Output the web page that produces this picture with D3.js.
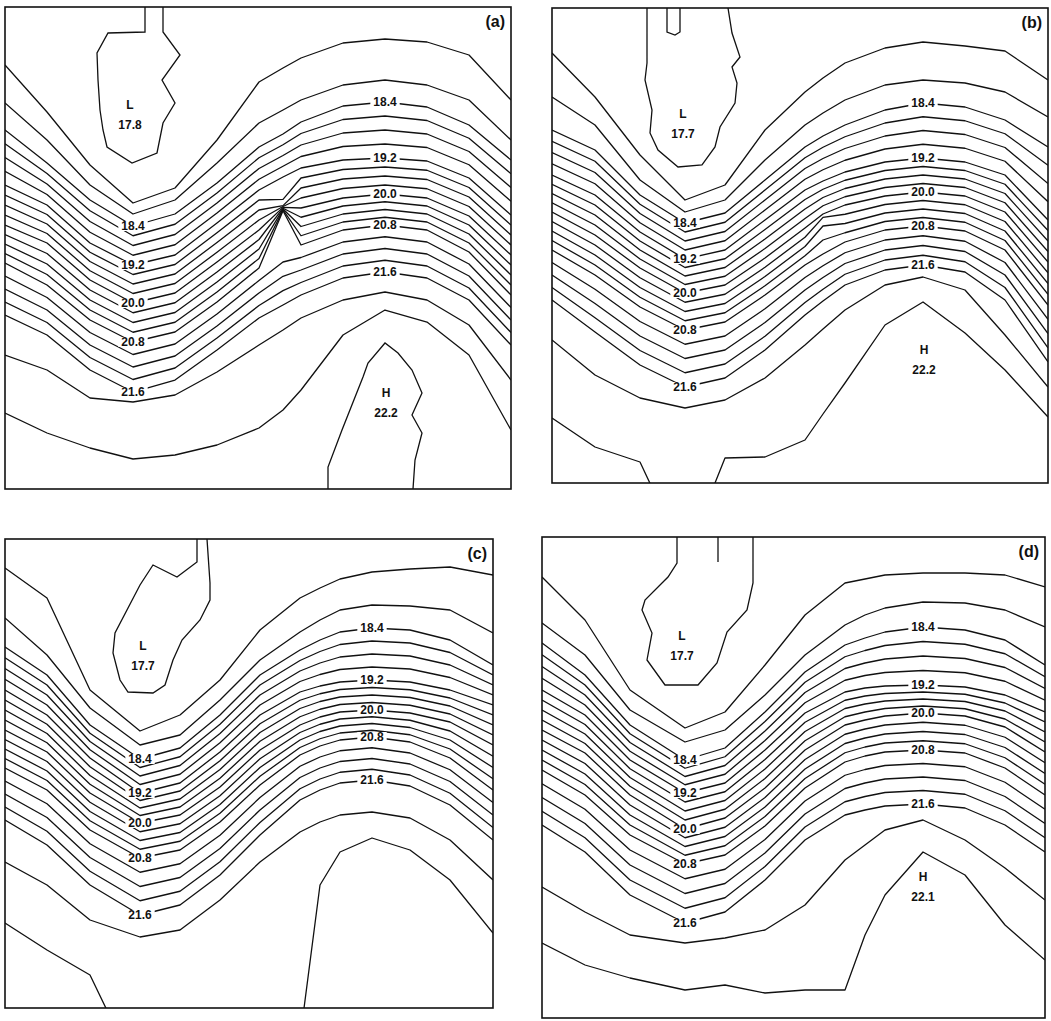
<!DOCTYPE html>
<html>
<head>
<meta charset="utf-8">
<script src="https://cdn.jsdelivr.net/npm/d3@7"></script>
<style>
  body { margin: 0; background: #fff; }
  svg text { font-family: "Liberation Sans", Arial, sans-serif; font-weight: bold; fill: #111; }
</style>
</head>
<body>
<svg id="chart" width="1051" height="1021"></svg>
<script>
const levels = [18.0, 18.2, 18.4, 19.2, 20.0, 20.8, 21.6, 21.8, 22.0];
const labelLevels = [18.4, 19.2, 20.0, 20.8, 21.6];
const isoLevels = d3.range(21).map(i => Math.round((18 + 0.2 * i) * 10) / 10);

// ---------- panel (a) ----------
// x of each sampled column, and y where each level crosses it (panel units from top-left)
const aCols = [0, 42, 85, 128, 170, 212, 254, 278, 296, 338, 380, 422, 464, 506];
const aLines = [
  [58, 105, 158, 196, 181, 133, 75, 61, 51, 36, 32, 35, 48, 93],
  [96, 133, 178, 207, 193, 156, 116, 103, 93, 78, 73, 78, 93, 133],
  [123, 156, 193, 219, 207, 176, 140, 127, 115, 99, 95, 100, 118, 153],
  [178, 198, 236, 258, 248, 216, 183, 170, 161, 153, 151, 154, 171, 208],
  [218, 236, 273, 296, 286, 255, 223, null, 201, 191, 187, 191, 209, 248],
  [256, 278, 313, 335, 325, 295, 261, null, 238, 223, 218, 223, 245, 288],
  [308, 328, 363, 385, 373, 343, 311, 298, 288, 271, 265, 271, 293, 338],
  [348, 363, 391, 395, 388, 365, 338, 323, 311, 293, 285, 293, 318, 373],
  [406, 426, 441, 452, 448, 438, 421, 403, 383, 328, 303, 315, 348, 423]
];
const aTop = 17.9;
const aBot = 22.1;
const aExtra = [[7, 198, 19.45], [7, 204, 20.85], [7, 255, 21.0]];
const aLow = [[140, 0], [140, 25], [103, 26], [92, 46], [93, 73], [95, 103], [98, 123], [102, 140], [127, 156], [152, 146], [158, 116], [170, 96], [157, 73], [175, 48], [158, 25], [158, 0]];
const aHigh = [[323, 482], [323, 460], [337, 423], [358, 370], [363, 356], [380, 336], [393, 346], [407, 363], [417, 386], [407, 408], [417, 426], [410, 453], [408, 482]];
const aExt = [["L", "17.8", 125, 108], ["H", "22.2", 381, 396]];

// ---------- panel (b) ----------
const bCols = [0, 43, 88, 133, 173, 213, 253, 271, 293, 333, 371, 413, 453, 496];
const bLines = [
  [45, 89, 147, 192, 177, 122, 84, 70, 55, 40, 34, 38, 43, 72],
  [89, 117, 172, 204, 192, 152, 117, 105, 92, 77, 72, 75, 84, 109],
  [122, 142, 187, 215, 205, 172, 139, 128, 117, 102, 95, 99, 112, 139],
  [167, 187, 224, 251, 242, 212, 182, 173, 164, 154, 150, 154, 167, 212],
  [204, 227, 260, 285, 277, 250, 220, 206, 197, 188, 184, 188, 204, 254],
  [242, 267, 299, 322, 314, 287, 257, 246, 234, 222, 218, 223, 242, 297],
  [292, 324, 357, 379, 370, 342, 307, 293, 277, 262, 257, 264, 292, 354],
  [332, 367, 390, 400, 392, 370, 337, 321, 302, 277, 269, 282, 327, 379],
  [410, 439, 454, null, 450, 449, 432, 406, 375, 317, 294, 325, 362, 409]
];
const bTop = 17.9;
const bBot = [22.1, 22.1, 22.05, 21.9, 22.05, 22.1, 22.1, 22.1, 22.1, 22.1, 22.1, 22.1, 22.1, 22.1];
const bExtra = [[7, 211, 20.3]];
const bLow = [[95, 0], [95, 55], [93, 72], [100, 102], [98, 125], [106, 142], [126, 159], [150, 157], [163, 139], [168, 119], [183, 95], [185, 75], [180, 59], [188, 49], [180, 25], [176, 0]];
const bNotch = [[115, 0], [115, 24], [123, 27], [128, 24], [128, 0]];
const bExt = [["L", "17.7", 131, 116], ["H", "22.2", 372, 352]];

// ---------- panel (c) ----------
const cCols = [0, 42, 85, 135, 175, 215, 255, 295, 315, 335, 367, 405, 445, 488];
const cLines = [
  [29, 59, 151, 192, 176, 141, 91, 59, 49, 40, 33, 30, 28, 36],
  [79, 116, 169, 206, 196, 161, 121, 93, 81, 71, 66, 67, 71, 94],
  [108, 136, 186, 220, 209, 176, 136, 111, 101, 93, 89, 91, 101, 126],
  [151, 176, 219, 254, 244, 213, 176, 153, 147, 143, 141, 143, 151, 166],
  [191, 213, 254, 284, 276, 248, 211, 186, 178, 173, 171, 174, 183, 206],
  [229, 251, 291, 319, 311, 283, 246, 216, 207, 201, 198, 203, 219, 251],
  [281, 306, 346, 376, 366, 336, 296, 261, 251, 244, 241, 247, 266, 301],
  [323, 346, 381, 398, 391, 361, 323, 293, 283, 276, 273, 279, 301, 341],
  [384, 411, 436, null, null, null, null, null, 346, 313, 299, 311, 341, 394]
];
const cTop = 17.9;
const cBot = [22.1, 22.1, 22.1, 21.9, 21.9, 21.9, 21.9, 21.97, 22.1, 22.1, 22.1, 22.1, 22.1, 22.1];
const cExtra = [];
const cLow = [[192, 0], [192, 23], [172, 38], [148, 26], [135, 46], [110, 94], [108, 114], [115, 141], [123, 153], [148, 154], [160, 146], [168, 121], [177, 101], [195, 81], [205, 61], [205, 44], [202, 0]];
const cExt = [["L", "17.7", 138, 117]];

// ---------- panel (d) ----------
const dCols = [0, 43, 88, 143, 183, 223, 263, 303, 323, 343, 381, 423, 463, 503];
const dLines = [
  [40, 83, 153, 191, 175, 128, 78, 46, 42, 38, 36, 36, 38, 50],
  [86, 118, 173, 205, 193, 158, 118, 88, 78, 71, 65, 66, 73, 90],
  [106, 138, 188, 223, 211, 175, 135, 108, 101, 95, 90, 93, 103, 128],
  [153, 178, 223, 256, 246, 213, 176, 155, 151, 149, 148, 150, 158, 175],
  [193, 216, 258, 292, 281, 251, 213, 188, 183, 179, 176, 179, 190, 215],
  [233, 258, 298, 327, 318, 289, 251, 225, 219, 215, 213, 216, 231, 258],
  [288, 315, 358, 386, 375, 343, 303, 278, 273, 269, 267, 271, 288, 315],
  [350, 375, 398, 406, 401, 393, 368, 323, 308, 293, 283, 303, 331, 363],
  [406, 428, 441, 453, 448, 456, 453, 453, 398, 358, 315, 338, 388, 423]
];
const dTop = 17.9;
const dBot = 22.1;
const dExtra = [];
const dLow = [[135, 0], [135, 26], [126, 40], [103, 63], [100, 73], [110, 96], [105, 123], [123, 148], [156, 148], [175, 126], [185, 95], [205, 73], [211, 46], [211, 0]];
const dTick = [[176, 0], [176, 25]];
const dExt = [["L", "17.7", 140, 109], ["H", "22.1", 381, 350]];

// ---------- layout ----------
const panels = [
  { id: "a", box: [5, 7, 511, 489], cols: aCols, lines: aLines, top: aTop, bot: aBot, extra: aExtra, outlines: [aLow, aHigh], ext: aExt, labelCols: [3, 10] },
  { id: "b", box: [552, 8, 1048, 483], cols: bCols, lines: bLines, top: bTop, bot: bBot, extra: bExtra, outlines: [bLow, bNotch], ext: bExt, labelCols: [3, 10] },
  { id: "c", box: [5, 539, 493, 1008], cols: cCols, lines: cLines, top: cTop, bot: cBot, extra: cExtra, outlines: [cLow], ext: cExt, labelCols: [3, 10] },
  { id: "d", box: [542, 537, 1045, 1018], cols: dCols, lines: dLines, top: dTop, bot: dBot, extra: dExtra, outlines: [dLow, dTick], ext: dExt, labelCols: [3, 10] }
];

const svg = d3.select("#chart");
const defs = svg.append("defs");

panels.forEach(drawPanel);

function drawPanel(p) {
  const [x0, y0, x1, y1] = p.box;
  const w = x1 - x0, h = y1 - y0;
  const sx = d3.scaleLinear().domain([0, w]).range([x0, x1]);
  const sy = d3.scaleLinear().domain([0, h]).range([y0, y1]);
  const at = (v, j) => Array.isArray(v) ? v[j] : v;

  defs.append("clipPath").attr("id", "clip-" + p.id)
    .append("rect").attr("x", x0).attr("y", y0).attr("width", w).attr("height", h);

  // per column: level -> y, from the read crossings (edge values let a line leave the frame)
  const colY = p.cols.map((cx, j) => {
    const pts = [[0, at(p.top, j)]];
    levels.forEach((lv, k) => {
      const y = p.lines[k][j];
      if (y != null) pts.push([y, lv]);
    });
    p.extra.filter(e => e[0] === j).forEach(e => pts.push([e[1], e[2]]));
    pts.push([h, at(p.bot, j)]);
    pts.sort((a, b) => a[0] - b[0]);
    return d3.scaleLinear().domain(pts.map(d => d[1])).range(pts.map(d => d[0]));
  });

  const isolines = isoLevels.map(lv => p.cols.map((cx, j) => [cx, colY[j](lv)]));

  const line = d3.line().x(d => sx(d[0])).y(d => sy(d[1]));
  const g = svg.append("g").attr("clip-path", `url(#clip-${p.id})`);

  g.selectAll("path.iso")
    .data(isolines)
    .join("path")
    .attr("class", "iso")
    .attr("d", line)
    .attr("fill", "none")
    .attr("stroke", "#111")
    .attr("stroke-width", 1.3)
    .attr("stroke-linejoin", "round");

  // closed extreme contours and small features
  g.selectAll("path.outline")
    .data(p.outlines)
    .join("path")
    .attr("class", "outline")
    .attr("d", line)
    .attr("fill", "none")
    .attr("stroke", "#111")
    .attr("stroke-width", 1.3);

  // contour labels on the lines at the trough and the crest
  p.labelCols.forEach(j => {
    labelLevels.forEach(lv => {
      const lg = svg.append("g")
        .attr("transform", `translate(${sx(p.cols[j])},${sy(colY[j](lv))})`);
      const bg = lg.append("rect").attr("fill", "#fff");
      const tx = lg.append("text")
        .attr("text-anchor", "middle")
        .attr("dy", "0.36em")
        .attr("font-size", 12)
        .text(lv.toFixed(1));
      const tw = tx.node().getComputedTextLength();
      bg.attr("x", -tw / 2 - 3).attr("y", -5).attr("width", tw + 6).attr("height", 10);
    });
  });

  // L / H markers
  p.ext.forEach(([kind, val, ex, ey]) => {
    svg.append("text").attr("x", sx(ex)).attr("y", sy(ey) - 10).attr("dy", "0.36em")
      .attr("text-anchor", "middle").attr("font-size", 12).text(kind);
    svg.append("text").attr("x", sx(ex)).attr("y", sy(ey) + 10).attr("dy", "0.36em")
      .attr("text-anchor", "middle").attr("font-size", 12).text(val);
  });

  svg.append("text")
    .attr("x", x1 - 6).attr("y", y0 + 20)
    .attr("text-anchor", "end")
    .attr("font-size", 16)
    .text(`(${p.id})`);

  svg.append("rect")
    .attr("x", x0).attr("y", y0).attr("width", w).attr("height", h)
    .attr("fill", "none").attr("stroke", "#111").attr("stroke-width", 1.6);
}
</script>
</body>
</html>
